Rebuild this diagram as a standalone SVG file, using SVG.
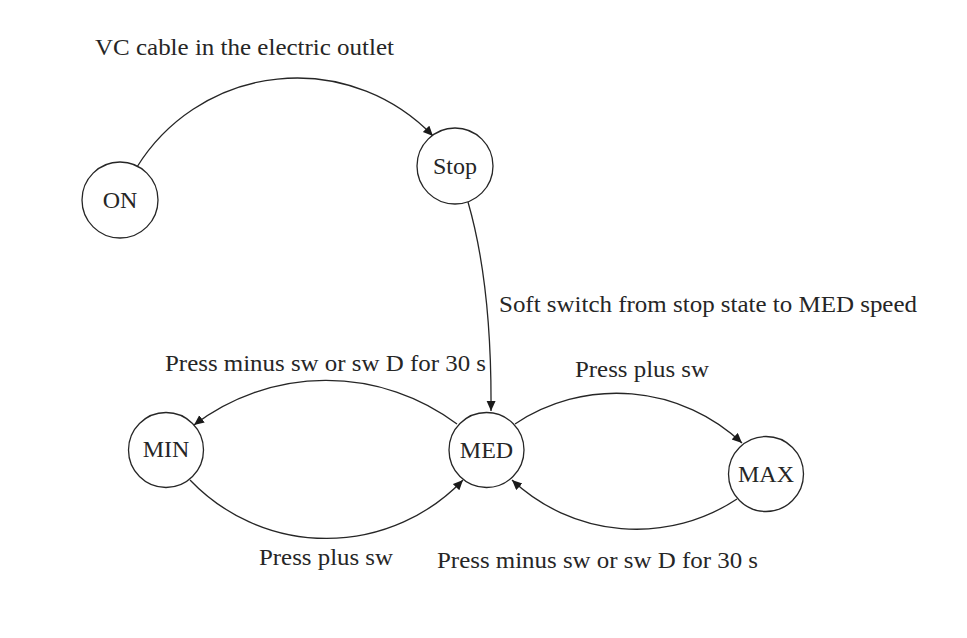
<svg xmlns="http://www.w3.org/2000/svg" width="967" height="638" viewBox="0 0 967 638">
  <style>
    .node circle { fill: #ffffff; stroke: #262626; stroke-width: 1.3; }
    .node text { font-family: "Liberation Serif", "Times New Roman", serif; font-size: 24px; fill: #262626; text-anchor: middle; }
    .edge { fill: none; stroke: #262626; stroke-width: 1.3; marker-end: url(#arrow); }
    .label { font-family: "Liberation Serif", "Times New Roman", serif; font-size: 24px; fill: #262626; }
  </style>
  <defs>
    <marker id="arrow" markerUnits="userSpaceOnUse" markerWidth="11" markerHeight="10" refX="10" refY="4.5" orient="auto">
      <path d="M0,0 L10,4.5 L0,9 z" fill="#1a1a1a"/>
    </marker>
  </defs>
  <rect width="967" height="638" fill="#ffffff"/>

  <g id="connectors">
    <path class="edge" d="M137,167 A188.4,188.4 0 0 1 433,136"/>
    <path class="edge" d="M468,202 Q492,285 491,411"/>
    <path class="edge" d="M457,424 A218,218 0 0 0 194,425"/>
    <path class="edge" d="M190,480 A188.6,188.6 0 0 0 463,480"/>
    <path class="edge" d="M515,424 A183,183 0 0 1 742,443"/>
    <path class="edge" d="M737,499 A182,182 0 0 1 512,480"/>
  </g>

  <g id="edge-labels">
    <text class="label" x="95" y="55" textLength="299" lengthAdjust="spacingAndGlyphs">VC cable in the electric outlet</text>
    <text class="label" x="499" y="312" textLength="418" lengthAdjust="spacingAndGlyphs">Soft switch from stop state to MED speed</text>
    <text class="label" x="165" y="371" textLength="321" lengthAdjust="spacingAndGlyphs">Press minus sw or sw D for 30 s</text>
    <text class="label" x="575" y="377" textLength="134" lengthAdjust="spacingAndGlyphs">Press plus sw</text>
    <text class="label" x="259" y="565" textLength="134" lengthAdjust="spacingAndGlyphs">Press plus sw</text>
    <text class="label" x="437" y="568" textLength="321" lengthAdjust="spacingAndGlyphs">Press minus sw or sw D for 30 s</text>
  </g>

  <g id="node-on" class="node">
    <circle cx="120" cy="200" r="38"/>
    <text x="120" y="208">ON</text>
  </g>
  <g id="node-stop" class="node">
    <circle cx="455" cy="166" r="38"/>
    <text x="455" y="174">Stop</text>
  </g>
  <g id="node-min" class="node">
    <circle cx="166" cy="450" r="37.5"/>
    <text x="166" y="457">MIN</text>
  </g>
  <g id="node-med" class="node">
    <circle cx="486.5" cy="450" r="37.5"/>
    <text x="486.5" y="458">MED</text>
  </g>
  <g id="node-max" class="node">
    <circle cx="766" cy="474" r="37.5"/>
    <text x="766" y="482">MAX</text>
  </g>
</svg>
